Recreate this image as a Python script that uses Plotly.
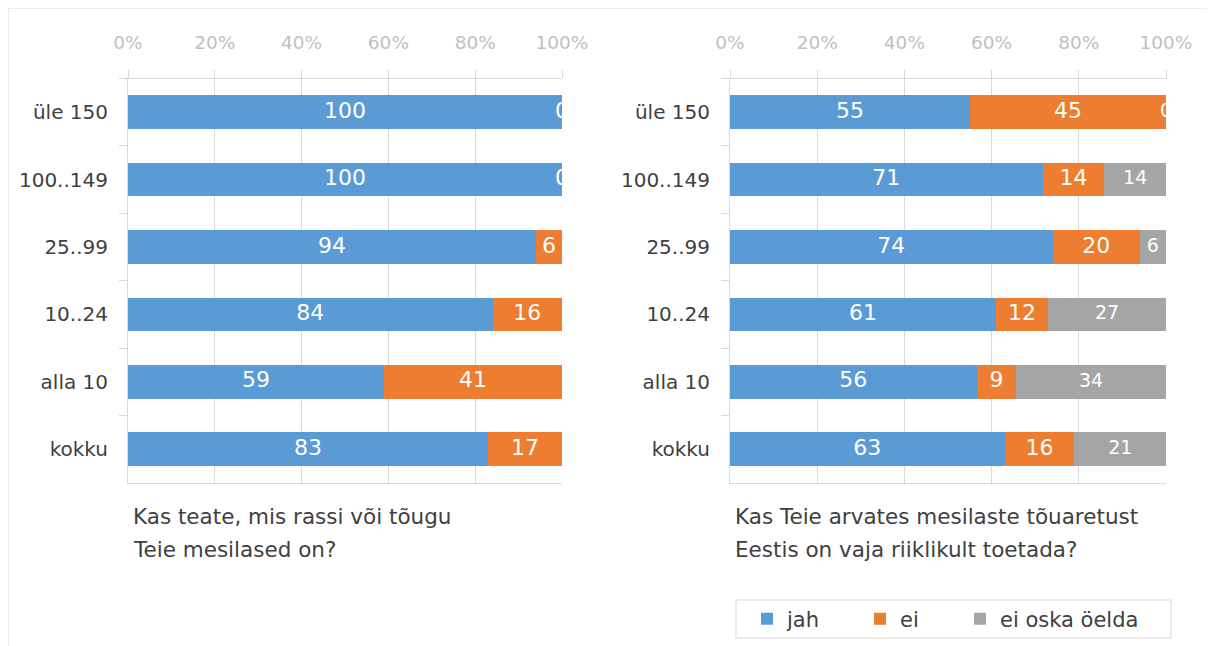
import plotly.graph_objects as go

categories = ["üle 150", "100..149", "25..99", "10..24", "alla 10", "kokku"]
series_names = ["jah", "ei", "ei oska öelda"]
left_jah = [100, 100, 94, 84, 59, 83]
left_ei = [0, 0, 6, 16, 41, 17]
right_jah = [55, 71, 74, 61, 56, 63]
right_ei = [45, 14, 20, 12, 9, 16]
right_eos = [0, 14, 6, 27, 34, 21]
tick_vals = [0, 20, 40, 60, 80, 100]
tick_text = ["0%", "20%", "40%", "60%", "80%", "100%"]
left_title = ["Kas teate, mis rassi või tõugu", "Teie mesilased on?"]
right_title = ["Kas Teie arvates mesilaste tõuaretust", "Eestis on vaja riiklikult toetada?"]

colors = ["#5B9BD5", "#ED7D31", "#A5A5A5"]
label_sizes = [22, 22, 19]
legend_ids = ["legend", "legend2", "legend3"]
legend_x_px = [739, 852, 952]
FONT = "DejaVu Sans"
W, H = 1215, 646
GRID = "#d9d9d9"
TXT = "#404040"

fig = go.Figure()


def add_stack(series, xa, ya, legend):
    totals = [sum(v) for v in zip(*series)]
    cum = [0] * len(categories)
    for i, vals in enumerate(series):
        fig.add_trace(go.Bar(
            y=categories, x=vals, orientation="h", name=series_names[i],
            marker=dict(color=colors[i], line=dict(width=0)),
            xaxis=xa, yaxis=ya, showlegend=legend, legend=legend_ids[i],
            hoverinfo="skip"))
        centers = [(c + v / 2) / t * 100 for c, v, t in zip(cum, vals, totals)]
        fig.add_trace(go.Scatter(
            y=categories, x=centers, mode="text", text=[str(v) for v in vals],
            textfont=dict(family=FONT, size=label_sizes[i], color="white"),
            textposition="middle center", cliponaxis=True,
            xaxis=xa, yaxis=ya, showlegend=False, hoverinfo="skip"))
        cum = [c + v for c, v in zip(cum, vals)]


add_stack([left_jah, left_ei], "x", "y", False)
add_stack([right_jah, right_ei, right_eos], "x2", "y2", True)

y_top = 1 - 70.5 / H
y_bot = 1 - 475 / H
xdoms = [[120 / W, 554 / W], [722 / W, 1158 / W]]

xaxis_common = dict(
    range=[0, 100], side="top", tickvals=tick_vals, ticktext=tick_text,
    tickfont=dict(family=FONT, size=18.5, color="#bfbfbf"),
    showgrid=True, gridcolor=GRID, gridwidth=1, zeroline=False,
    showline=True, linecolor=GRID, linewidth=1, mirror=True,
    ticks="outside", ticklen=8, tickcolor=GRID, ticklabelstandoff=13,
    automargin=False, fixedrange=True)
yaxis_common = dict(
    categoryorder="array", categoryarray=categories, autorange="reversed",
    tickfont=dict(family=FONT, size=20, color=TXT),
    showgrid=False, zeroline=False, showline=True, linecolor=GRID, linewidth=1,
    ticks="outside", ticklen=8, tickcolor=GRID, tickson="boundaries",
    ticklabelstandoff=15, automargin=False, fixedrange=True,
    domain=[y_bot, y_top])

layout_legends = {}
for lid, lx in zip(legend_ids, legend_x_px):
    layout_legends[lid] = dict(
        orientation="h", x=lx / W, y=1 - 611 / H, xanchor="left", yanchor="middle",
        borderwidth=0, bgcolor="rgba(0,0,0,0)",
        font=dict(family=FONT, size=21, color=TXT),
        itemclick=False, itemdoubleclick=False)

fig.update_layout(
    width=W, height=H,
    margin=dict(l=0, r=0, t=0, b=0),
    paper_bgcolor="white", plot_bgcolor="white",
    barmode="stack", barnorm="percent", bargap=0.5,
    font=dict(family=FONT, color=TXT),
    xaxis=dict(domain=xdoms[0], anchor="y", **xaxis_common),
    xaxis2=dict(domain=xdoms[1], anchor="y2", **xaxis_common),
    yaxis=dict(anchor="x", **yaxis_common),
    yaxis2=dict(anchor="x2", **yaxis_common),
    shapes=[
        dict(type="rect", xref="paper", yref="paper", x0=0, x1=1, y0=0, y1=1,
             line=dict(color=GRID, width=1), fillcolor="rgba(0,0,0,0)", layer="below"),
        dict(type="rect", xref="paper", yref="paper",
             x0=728 / W, x1=1163 / W, y0=1 - 630 / H, y1=1 - 592 / H,
             line=dict(color=GRID, width=1), fillcolor="rgba(0,0,0,0)", layer="below"),
    ],
    **layout_legends,
)

annotations = []
for lines, x_px in [(left_title, 123), (right_title, 725)]:
    for k, line in enumerate(lines):
        annotations.append(dict(
            text=line, xref="paper", yref="paper", x=x_px / W, y=1 - (508 + 33 * k) / H,
            xanchor="left", yanchor="middle", showarrow=False,
            font=dict(family=FONT, size=21.5, color=TXT)))
fig.update_layout(annotations=annotations)

fig.write_html("out.html")
